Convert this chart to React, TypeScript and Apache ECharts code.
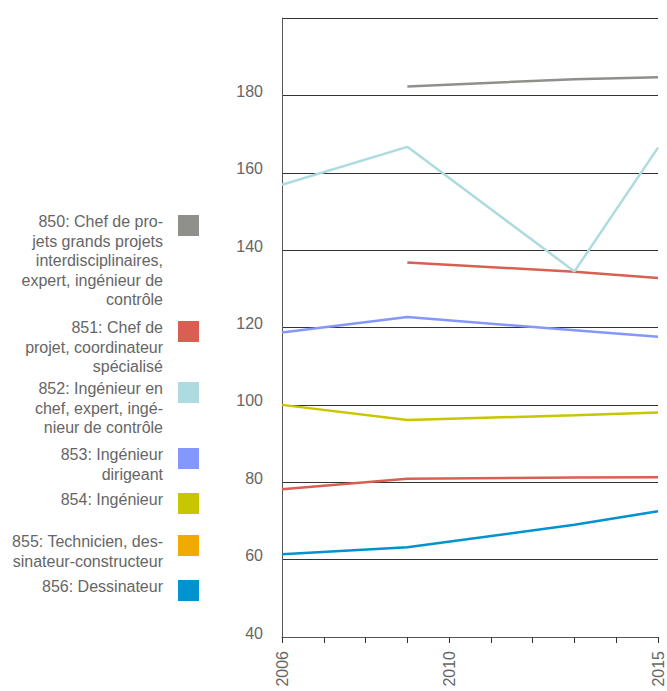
import React, { useEffect, useRef } from "react";
import * as echarts from "echarts";

const years = [2006, 2009, 2013, 2015];
const xTickLabels = [2006, 2010, 2015];
const yTickLabels = [40, 60, 80, 100, 120, 140, 160, 180];

const s850 = [null, 182.3, 184.2, 184.7];
const s851 = [null, 136.8, 134.4, 132.8];
const s852 = [156.9, 166.7, 134.5, 166.5];
const s853 = [118.7, 122.7, 119.3, 117.6];
const s854 = [100.0, 96.1, 97.3, 98.0];
const s855 = [78.2, 80.9, 81.2, 81.3];
const s856 = [61.4, 63.2, 69.0, 72.5];

const seriesNames = ["850", "851", "852", "853", "854", "855", "856"];
const legendLabels = [
  "850: Chef de pro-\njets grands projets\ninterdisciplinaires,\nexpert, ingénieur de\ncontrôle",
  "851: Chef de\nprojet, coordinateur\nspécialisé",
  "852: Ingénieur en\nchef, expert, ingé-\nnieur de contrôle",
  "853: Ingénieur\ndirigeant",
  "854: Ingénieur",
  "855: Technicien, des-\nsinateur-constructeur",
  "856: Dessinateur",
];

const legendColors = ["#8f8f8b", "#d95f52", "#aedbe0", "#8497fd", "#c8c600", "#f0aa00", "#0093d0"];
const lineColors = ["#8f8f8b", "#d95f52", "#aedbe0", "#8497fd", "#c8c600", "#d95f52", "#0093d0"];
const legendTops = [215, 321, 382, 448, 493, 535, 580];

const allSeries = [s850, s851, s852, s853, s854, s855, s856];

export default function App() {
  const ref = useRef<HTMLDivElement>(null);
  useEffect(() => {
    if (!ref.current) return;
    const chart = echarts.init(ref.current, null, { renderer: "svg" });
    const font = "Liberation Sans, Arial, Helvetica, sans-serif";
    const graphics: any[] = [];
    legendLabels.forEach((lbl, i) => {
      graphics.push({
        type: "rect",
        left: 178,
        top: legendTops[i],
        shape: { width: 21, height: 21 },
        style: { fill: legendColors[i] },
      });
      graphics.push({
        type: "text",
        x: 163,
        y: legendTops[i] - 3.2,
        style: {
          text: lbl,
          align: "right",
          verticalAlign: "top",
          fontSize: 16,
          lineHeight: 19.5,
          fontFamily: font,
          fill: "#666",
        },
      });
    });
    chart.setOption({
      animation: false,
      grid: { left: 282, right: 9, top: 18, bottom: 54, containLabel: false },
      xAxis: {
        type: "value",
        min: 2006,
        max: 2015,
        interval: 1,
        splitLine: { show: false },
        axisLine: { show: true, lineStyle: { color: "#555", width: 1 } },
        axisTick: { show: true, length: 6, lineStyle: { color: "#333" } },
        axisLabel: {
          rotate: 90,
          margin: 14,
          fontSize: 16,
          fontFamily: font,
          color: "#666",
          formatter: (v: number) => (xTickLabels.includes(v) ? String(v) : ""),
        },
      },
      yAxis: {
        type: "value",
        min: 40,
        max: 200,
        interval: 20,
        axisLine: { show: true, lineStyle: { color: "#555", width: 1 } },
        axisTick: { show: false },
        splitLine: { show: true, lineStyle: { color: "#333", width: 1 } },
        axisLabel: {
          margin: 19,
          fontSize: 16,
          fontFamily: font,
          color: "#666",
          verticalAlign: "bottom",
          lineHeight: 8,
          formatter: (v: number) => (yTickLabels.includes(v) ? String(v) : ""),
        },
      },
      series: allSeries.map((vals, i) => ({
        name: seriesNames[i],
        type: "line",
        showSymbol: false,
        symbol: "none",
        connectNulls: false,
        data: years.map((y, j) => [y, vals[j]]),
        lineStyle: { color: lineColors[i], width: 2.5 },
        itemStyle: { color: lineColors[i] },
      })),
      graphic: graphics,
    });
    return () => chart.dispose();
  }, []);
  return <div ref={ref} style={{ width: 667, height: 691, position: "absolute", left: 0, top: 0 }} />;
}
